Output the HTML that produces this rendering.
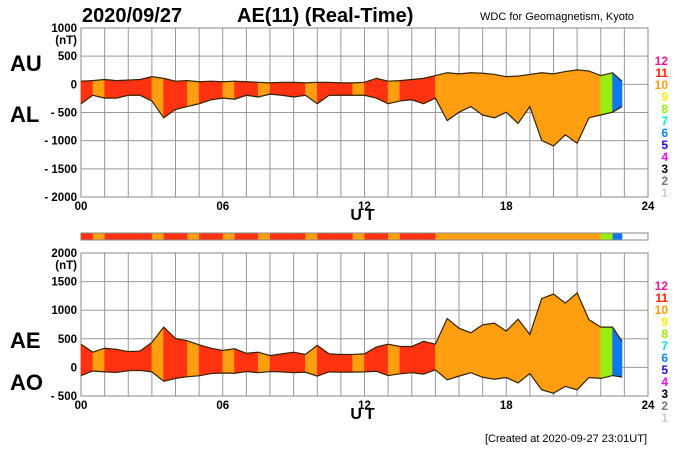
<!DOCTYPE html>
<html><head><meta charset="utf-8"><style>
body{margin:0;background:#fff;}
svg{display:block;font-family:"Liberation Sans",sans-serif;}
</style></head><body>
<svg id="c" width="700" height="450" viewBox="0 0 700 450"></svg>
<script>
const times=[0,0.5,1,1.5,2,2.5,3,3.5,4,4.5,5,5.5,6,6.5,7,7.5,8,8.5,9,9.5,10,10.5,11,11.5,12,12.5,13,13.5,14,14.5,15,15.5,16,16.5,17,17.5,18,18.5,19,19.5,20,20.5,21,21.5,22,22.5,22.9];
const auValues=[50,60,80,60,70,80,130,100,50,60,40,50,40,50,40,30,20,30,30,20,30,30,20,20,30,100,50,60,80,100,150,200,180,200,190,170,130,140,170,200,180,220,250,230,150,200,50];
const alValues=[-350,-200,-250,-250,-200,-200,-300,-600,-450,-400,-350,-280,-250,-270,-200,-230,-180,-200,-230,-200,-350,-200,-200,-200,-200,-250,-350,-300,-280,-350,-250,-650,-500,-400,-550,-600,-500,-700,-400,-1000,-1100,-900,-1050,-600,-550,-500,-400];
const aeValues=[400,260,330,310,270,280,430,700,500,460,390,330,290,320,240,260,200,230,260,220,380,230,220,220,230,350,400,360,360,450,400,850,680,600,740,770,630,840,570,1200,1280,1120,1300,830,700,700,450];
const aoValues=[-150,-70,-85,-95,-65,-60,-85,-250,-200,-170,-155,-115,-105,-110,-80,-100,-80,-85,-100,-90,-160,-85,-90,-90,-85,-75,-150,-120,-100,-125,-50,-225,-160,-100,-180,-215,-185,-280,-115,-400,-460,-340,-400,-185,-200,-150,-175];
const stationCounts=[11,10,11,11,11,11,10,11,11,10,11,11,10,11,11,10,11,11,11,10,11,11,11,10,11,11,10,11,11,11,10,10,10,10,10,10,10,10,10,10,10,10,10,10,8,6];
const yTicksTop=["1000","500","0","- 500","- 1000","- 1500","- 2000"];
const yTicksBot=["2000","1500","1000","500","0","- 500"];
const xTicks=["00","06","12","18","24"];
const legendLabels=["12","11","10","9","8","7","6","5","4","3","2","1"];
const legendColors=["#ff1493","#ff2200","#ff9900","#ffee00","#99ee00","#00eecc","#0088ff","#2200ff","#ff00ff","#000000","#777777","#cccccc"];
const countColor={11:"#ff3311",10:"#ff9e10",9:"#ffee00",8:"#99ee11",7:"#00eecc",6:"#1177ee"};

const svg=document.getElementById('c');
const NS="http://www.w3.org/2000/svg";
function mk(tag,attrs,txt){const e=document.createElementNS(NS,tag);for(const k in attrs)e.setAttribute(k,attrs[k]);if(txt!==undefined)e.textContent=txt;svg.appendChild(e);return e;}
const X0=81,X1=648;
const xs=h=>X0+h/24*(X1-X0);
const yTop=v=>84+(0-v)/500*28.2;
const yBot=v=>367+(0-v)/500*28.5;

function panel(pfx,yTopPx,yBotPx,n,yf,hi,lo,ticks,tickVal0){
  for(let h=0;h<=24;h++){const l=mk('line',{x1:xs(h),x2:xs(h),y1:yTopPx,y2:yBotPx,stroke:'#999','stroke-width':1});
    }
  for(let i=0;i<=n;i++){const y=yTopPx+(yBotPx-yTopPx)*i/n;const l=mk('line',{x1:X0,x2:X1,y1:y,y2:y,stroke:'#999','stroke-width':1});
    
    const t=mk('text',{x:77,y:y+4,'text-anchor':'end','font-size':11.5,'font-weight':'bold'},ticks[i]);
    }
  const nt=mk('text',{x:77,y:yTopPx+16,'text-anchor':'end','font-size':11.5,'font-weight':'bold'},'(nT)');
  
  const fr=mk('rect',{x:X0,y:yTopPx,width:X1-X0,height:yBotPx-yTopPx,fill:'none',stroke:'#888'});
  
  for(let i=0;i<times.length-1;i++){
    const a=times[i],b=times[i+1];
    const pts=[[xs(a),yf(hi[i])],[xs(b),yf(hi[i+1])],[xs(b),yf(lo[i+1])],[xs(a),yf(lo[i])]].map(p=>p.join(',')).join(' ');
    const p=mk('polygon',{points:pts,fill:countColor[stationCounts[i]]||'#ff9e10',stroke:countColor[stationCounts[i]]||'#ff9e10','stroke-width':0.6});
    }
  const up=mk('polyline',{points:times.map((t,i)=>xs(t)+','+yf(hi[i])).join(' '),fill:'none',stroke:'#332200','stroke-width':1.2});
  
  const dn=mk('polyline',{points:times.map((t,i)=>xs(t)+','+yf(lo[i])).join(' '),fill:'none',stroke:'#332200','stroke-width':1.2});
  
  xTicks.forEach((l,i)=>{const t=mk('text',{x:xs(i*6),y:yBotPx+13,'text-anchor':'middle','font-size':11.5,'font-weight':'bold'},l);
    });
  const ut=mk('text',{x:364,y:yBotPx+23,'text-anchor':'middle','font-size':16,'font-weight':'bold','letter-spacing':3},'UT');
  
  legendLabels.forEach((l,i)=>{const t=mk('text',{x:668,y:yTopPx+37+i*12,'text-anchor':'end','font-size':12,'font-weight':'bold',fill:legendColors[i]},l);
    });
}
panel('top',28,197,6,yTop,auValues,alValues,yTicksTop);
panel('bottom',253,396,5,yBot,aeValues,aoValues,yTicksBot);

// station color bar
const cbf=mk('rect',{x:X0,y:233,width:X1-X0,height:7,fill:'#fff',stroke:'#888'});

for(let i=0;i<times.length-1;i++){
  const r=mk('rect',{x:xs(times[i]),y:233.5,width:xs(times[i+1])-xs(times[i])+0.3,height:6,fill:countColor[stationCounts[i]]});
  }

function txt(name,x,y,s,size,extra){const t=mk('text',Object.assign({x:x,y:y,'font-size':size,'font-weight':'bold'},extra||{}),s);
  }
txt('date-title',82,22,'2020/09/27',20);
txt('index-title',237,22,'AE(11) (Real-Time)',20);
txt('source-label',480,20,'WDC for Geomagnetism, Kyoto',11,{'font-weight':'normal'});
txt('au-label',10,71,'AU',22);
txt('al-label',10,122,'AL',22);
txt('ae-label',10,348,'AE',22);
txt('ao-label',10,390,'AO',22);
txt('created-label',647,442,'[Created at 2020-09-27 23:01UT]',11,{'text-anchor':'end','font-weight':'normal'});
</script>
</body></html>
